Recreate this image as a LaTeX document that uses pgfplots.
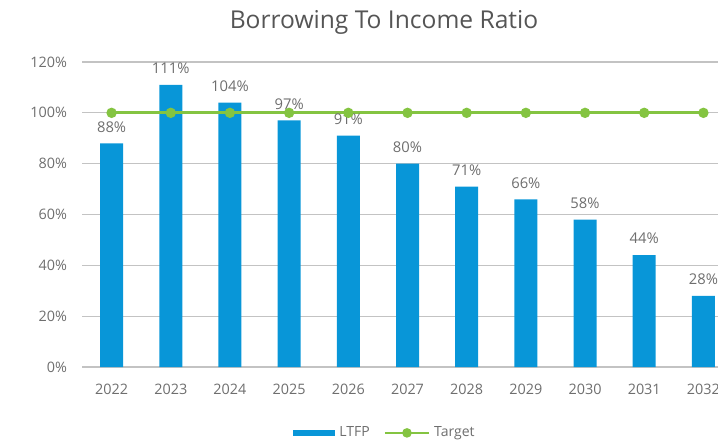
\documentclass[border=0pt]{standalone}
\usepackage{pgfplots}
\pgfplotsset{compat=1.18}
\usepackage{fontspec}
\setmainfont{Open Sans}
\definecolor{barblue}{RGB}{8,150,216}
\definecolor{tgtgreen}{RGB}{132,196,65}
\definecolor{txtgray}{RGB}{110,110,110}
\definecolor{titlegray}{RGB}{85,85,85}
\definecolor{gridgray}{RGB}{195,195,195}
\begin{document}
\begin{tikzpicture}
\begin{axis}[
    at={(41pt,39.5pt)}, anchor=south west,
    scale only axis,
    width=325.5pt, height=152.5pt,
    xmin=-0.5, xmax=10.5,
    ymin=0, ymax=120,
    ytick={0,20,40,60,80,100,120},
    xtick=data,
    xticklabels={2022,2023,2024,2025,2026,2027,2028,2029,2030,2031,2032},
    yticklabel={\pgfmathprintnumber{\tick}\%},
    /pgf/number format/assume math mode=true,
    axis line style={draw=none},
    major tick length=0pt,
    ymajorgrids=true,
    grid style={draw=gridgray, line width=0.6pt},
    tick label style={font=\fontsize{7.2}{8}\selectfont, text=txtgray},
    yticklabel style={xshift=-4pt},
    xticklabel style={yshift=-5pt},
    legend style={at={(0.467,-0.216)}, anchor=center, draw=none,
        font=\fontsize{7}{8}\selectfont, text=txtgray, legend columns=2,
        /tikz/every even column/.append style={column sep=5pt}},
    legend cell align=left,
]
\addplot[ybar, bar width=11.5pt, fill=barblue, draw=none,
    nodes near coords={\pgfmathprintnumber{\pgfplotspointmeta}\%},
    nodes near coords style={font=\fontsize{7.4}{8}\selectfont, text=txtgray, yshift=2pt},
    legend image code/.code={\fill[barblue] (0pt,-1.6pt) rectangle (21pt,1.6pt);}]
    coordinates {(0,88) (1,111) (2,104) (3,97) (4,91) (5,80) (6,71) (7,66) (8,58) (9,44) (10,28)};
\addlegendentry{LTFP}
\addplot[tgtgreen, line width=1.5pt, mark=*, mark size=1.8pt,
    legend image code/.code={\draw[tgtgreen, line width=1.2pt] (0pt,0pt) -- (22pt,0pt);
        \fill[tgtgreen] (11pt,0pt) circle (1.6pt);}]
    coordinates {(0,100) (1,100) (2,100) (3,100) (4,100) (5,100) (6,100) (7,100) (8,100) (9,100) (10,100)};
\addlegendentry{Target}
\end{axis}
\node[font=\fontsize{12.3}{14}\selectfont, text=titlegray] at (192pt,212pt) {Borrowing To Income Ratio};
\pgfresetboundingbox
\path[use as bounding box] (0,0) rectangle (359pt,223pt);
\end{tikzpicture}
\end{document}
